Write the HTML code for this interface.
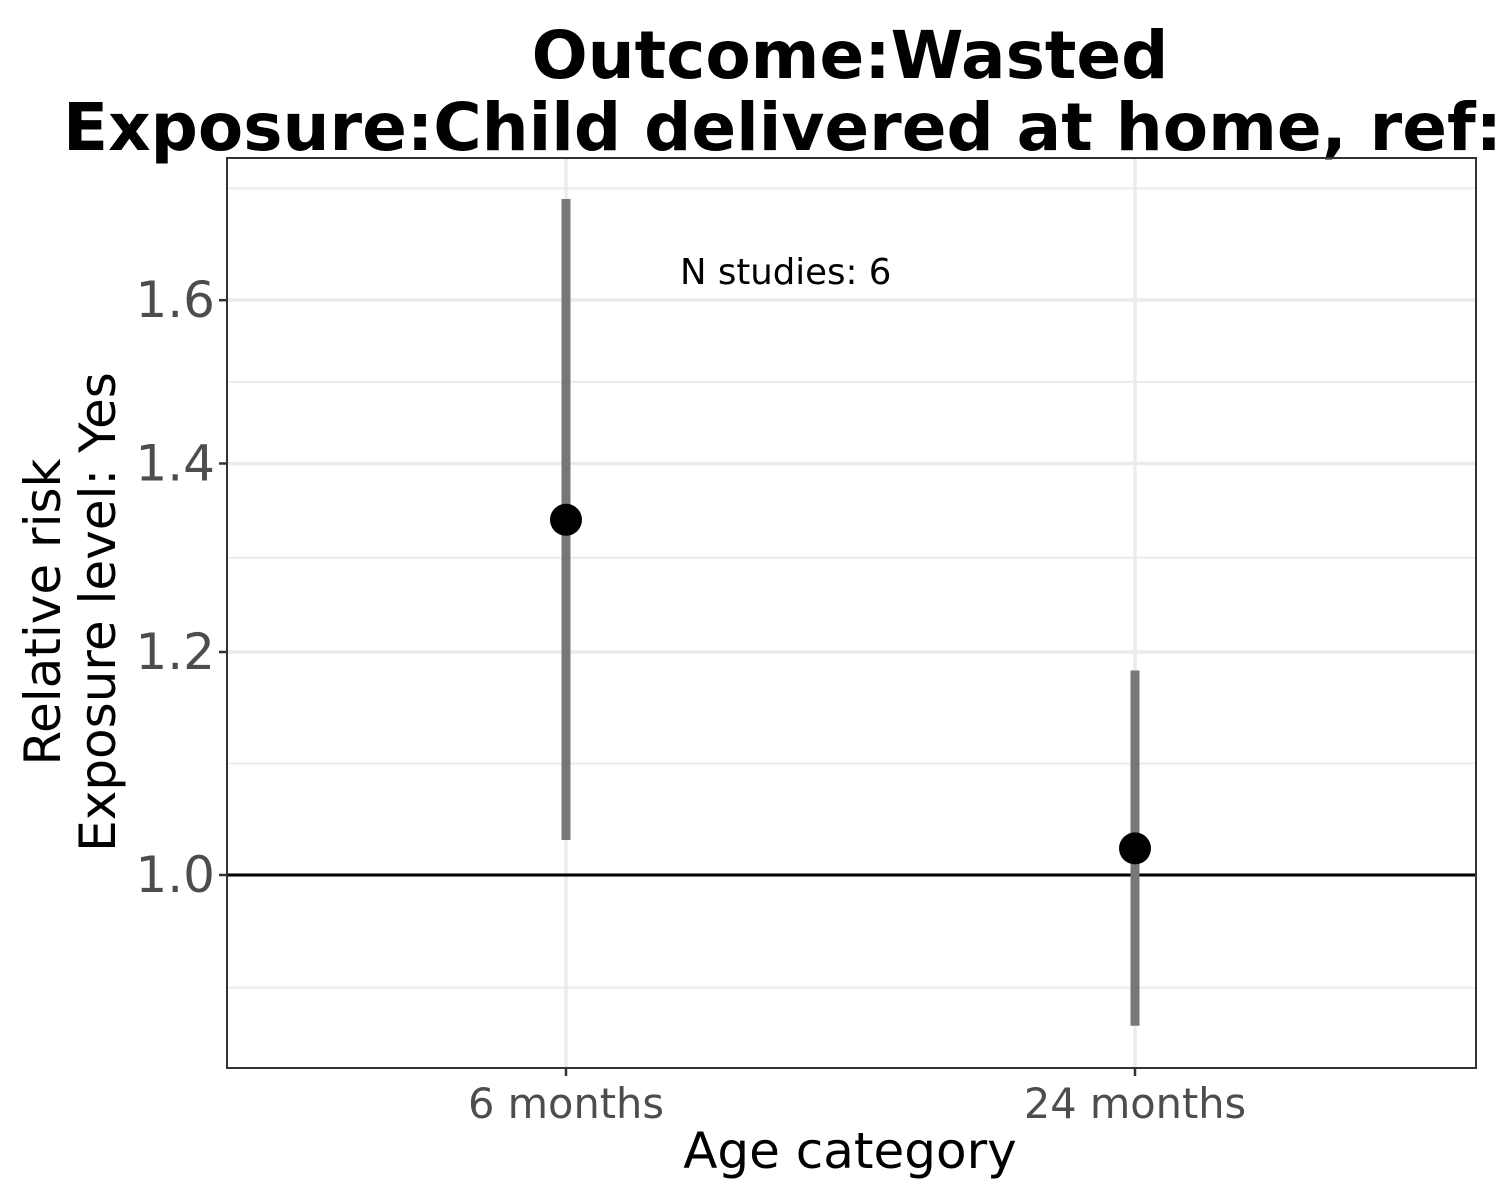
<!DOCTYPE html>
<html><head><meta charset="utf-8"><style>body{margin:0;background:#fff}svg{display:block;font-family:"DejaVu Sans","Liberation Sans",sans-serif}</style></head>
<body>
<svg id="chart" width="1500" height="1200" viewBox="0 0 1500 1200">
<rect width="1500" height="1200" fill="#fff"/>
<text x="850" y="78" text-anchor="middle" font-size="66" font-weight="bold">Outcome:Wasted</text>
<text x="63" y="150" font-size="66" font-weight="bold">Exposure:Child delivered at home, ref: No</text>
<g id="plot"></g>
<text x="850" y="1168" text-anchor="middle" font-size="50">Age category</text>
<text transform="translate(60,612) rotate(-90)" text-anchor="middle" font-size="50">Relative risk</text>
<text transform="translate(115,612) rotate(-90)" text-anchor="middle" font-size="50">Exposure level: Yes</text>
<text x="680" y="284" font-size="35.5">N studies: 6</text>
</svg>
<script>
const categories = ["6 months", "24 months"];
const estimates = [1.337, 1.022];
const lowerCI = [1.029, 0.884];
const upperCI = [1.738, 1.182];
const yTicks = [1.0, 1.2, 1.4, 1.6];
const yTickLabels = ["1.0", "1.2", "1.4", "1.6"];

const L=227,R=1476,T=158,B=1068;
const k=1223, y0=875;
function y(v){return y0 - k*Math.log(v);}
function x(i){return 566 + i*569;}
const ns="http://www.w3.org/2000/svg";
const g=document.getElementById('plot');
function el(t,a){const e=document.createElementNS(ns,t);for(const k in a)e.setAttribute(k,a[k]);g.appendChild(e);return e;}
const lg=yTicks.map(Math.log);
const n=lg.length;
const minors=[];
for(let i=-1;i<n;i++){
  const a=i<0?lg[0]-(lg[1]-lg[0])*1.01:lg[i];
  const b=i+1<n?lg[i+1]:lg[n-1]+(lg[n-1]-lg[n-2])*1.37;
  minors.push((a+b)/2);
}
minors.forEach(m=>{const yy=y0-k*m;if(yy>T&&yy<B){const e=el('line',{x1:L,x2:R,y1:yy,y2:yy,stroke:'#ebebeb','stroke-width':2});

}});
yTicks.forEach((v,i)=>{const yy=y(v);
const e=el('line',{x1:L,x2:R,y1:yy,y2:yy,stroke:'#ebebeb','stroke-width':3.5});


const t=el('line',{x1:L-8,x2:L,y1:yy,y2:yy,stroke:'#333','stroke-width':2.5});


const tx=el('text',{x:L-12,y:yy+17,'text-anchor':'end','font-size':50,fill:'#4d4d4d'});tx.textContent=yTickLabels[i];

});
categories.forEach((c,i)=>{const xx=x(i);
const e=el('line',{x1:xx,x2:xx,y1:T,y2:B,stroke:'#ebebeb','stroke-width':3.5});


const t=el('line',{x1:xx,x2:xx,y1:B,y2:B+8,stroke:'#333','stroke-width':2.5});


const tx=el('text',{x:xx,y:B+50,'text-anchor':'middle','font-size':41.5,fill:'#4d4d4d'});tx.textContent=c;

});
const ref=el('line',{x1:L,x2:R,y1:y(1),y2:y(1),stroke:'#000','stroke-width':3});


categories.forEach((c,i)=>{const xx=x(i);
const ci=el('line',{x1:xx,x2:xx,y1:y(upperCI[i]),y2:y(lowerCI[i]),stroke:'#777','stroke-width':9});


const p=el('circle',{cx:xx,cy:y(estimates[i]),r:16,fill:'#000'});

});
const f=el('rect',{x:L,y:T,width:R-L,height:B-T,fill:'none',stroke:'#333','stroke-width':2});


</script>
</body></html>
